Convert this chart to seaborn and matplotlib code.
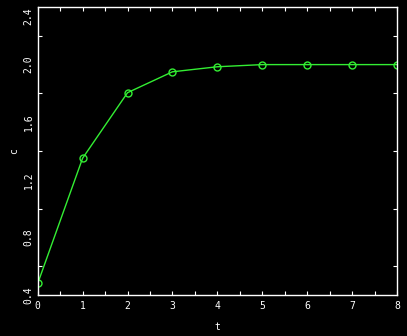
import numpy as np
import pandas as pd
import seaborn as sns
import matplotlib
matplotlib.use("Agg")
import matplotlib.pyplot as plt
from matplotlib.ticker import MultipleLocator, FixedLocator

t_values = [0, 1, 2, 3, 4, 5, 6, 7, 8]
c_values = [0.48, 1.35, 1.805, 1.95, 1.985, 2.0, 2.0, 2.0, 2.0]
x_ticks = [0, 1, 2, 3, 4, 5, 6, 7, 8]
y_ticks = [0.4, 0.8, 1.2, 1.6, 2.0, 2.4]
x_label = "t"
y_label = "c"

df = pd.DataFrame({"t": t_values, "c": c_values})

sns.set_style("dark")
plt.rcParams["font.family"] = ["DejaVu Sans Mono", "DejaVu Sans"]

fig = plt.figure(figsize=(4.07, 3.36), dpi=100, facecolor="black")
ax = fig.add_axes([37.7 / 407, 41 / 336, (397 - 37.7) / 407, (295 - 7) / 336])
ax.set_facecolor("black")

sns.lineplot(data=df, x="t", y="c", ax=ax, color="#33ee33", linewidth=1.0,
             marker="o", markersize=5, markerfacecolor="none",
             markeredgecolor="#33ee33", markeredgewidth=1.0)

ax.set_xlim(0, 8)
ax.set_ylim(0.4, 2.4)
ax.xaxis.set_major_locator(FixedLocator(x_ticks))
ax.xaxis.set_minor_locator(MultipleLocator(0.5))
ax.yaxis.set_major_locator(FixedLocator(y_ticks))
ax.yaxis.set_minor_locator(MultipleLocator(0.2))
ax.set_xticklabels([str(v) for v in x_ticks])
ylabels = ax.set_yticklabels([f"{v:.1f}" for v in y_ticks], rotation=90, va="center")
ylabels[-1].set_va("top")

for s in ax.spines.values():
    s.set_visible(True)
    s.set_color("white")
    s.set_linewidth(1.0)

ax.tick_params(which="both", direction="in", colors="white", top=True, right=True,
               bottom=True, left=True, labelsize=7, labelcolor="white", width=0.8)
ax.tick_params(which="major", length=3, pad=4)
ax.tick_params(axis="y", which="major", length=0, pad=3)
ax.tick_params(which="minor", length=3)
ax.grid(False)

ax.set_xlabel(x_label, color="white", fontsize=7, labelpad=8)
ax.set_ylabel(y_label, color="white", fontsize=7, labelpad=3)

fig.savefig("out.png", dpi=100, facecolor="black")
